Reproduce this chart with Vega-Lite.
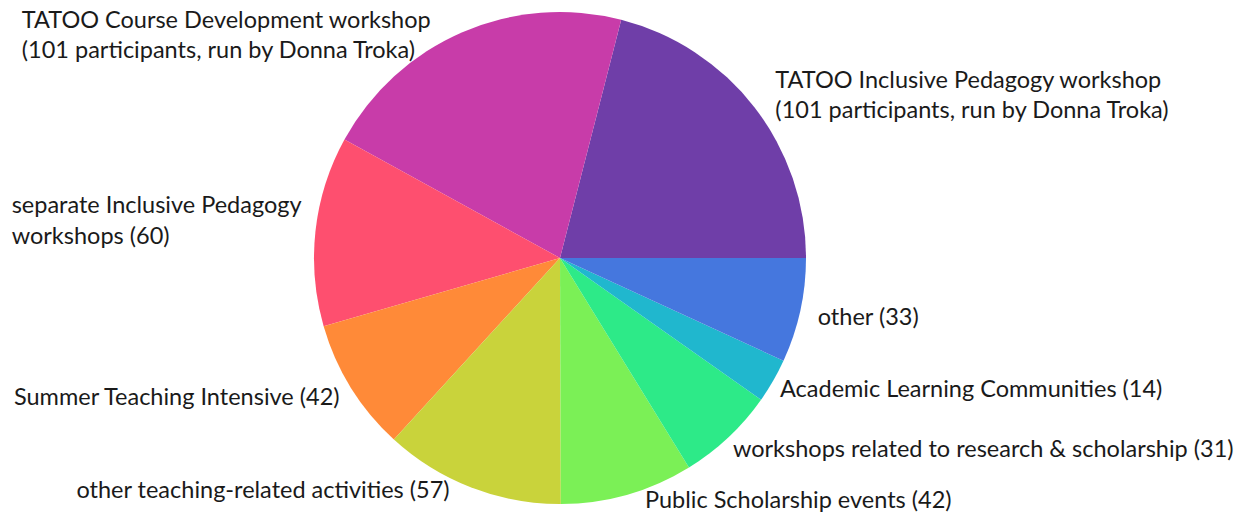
{
  "$schema": "https://vega.github.io/schema/vega-lite/v6.json",
  "width": 1120,
  "height": 516,
  "autosize": "none",
  "padding": {"left": 0, "top": 0, "right": 119, "bottom": 7},
  "background": "white",
  "config": {"view": {"stroke": null}, "text": {"font": "Lato", "fontSize": 23.5, "color": "#1a1a1a"}},
  "data": {
    "values": [
      {"rank": 1, "activity": "TATOO Inclusive Pedagogy", "participants": 101, "label": "TATOO Inclusive Pedagogy workshop\n(101 participants, run by Donna Troka)"},
      {"rank": 2, "activity": "TATOO Course Development", "participants": 101, "label": "TATOO Course Development workshop\n(101 participants, run by Donna Troka)"},
      {"rank": 3, "activity": "separate Inclusive Pedagogy", "participants": 60, "label": "separate Inclusive Pedagogy\nworkshops (60)"},
      {"rank": 4, "activity": "Summer Teaching Intensive", "participants": 42, "label": "Summer Teaching Intensive (42)"},
      {"rank": 5, "activity": "other teaching-related", "participants": 57, "label": "other teaching-related activities (57)"},
      {"rank": 6, "activity": "Public Scholarship", "participants": 42, "label": "Public Scholarship events (42)"},
      {"rank": 7, "activity": "research & scholarship", "participants": 31, "label": "workshops related to research & scholarship (31)"},
      {"rank": 8, "activity": "Academic Learning Communities", "participants": 14, "label": "Academic Learning Communities (14)"},
      {"rank": 9, "activity": "other", "participants": 33, "label": "other (33)"}
    ]
  },
  "encoding": {
    "theta": {
      "field": "participants",
      "type": "quantitative",
      "stack": true,
      "scale": {"range": [1.5707963, -4.712389]}
    },
    "order": {"field": "rank", "type": "quantitative", "sort": "ascending"},
    "detail": {"field": "activity", "type": "nominal"}
  },
  "layer": [
    {
      "mark": {"type": "arc", "outerRadius": 246},
      "encoding": {
        "color": {
          "field": "activity",
          "type": "nominal",
          "legend": null,
          "scale": {
            "domain": ["TATOO Inclusive Pedagogy", "TATOO Course Development", "separate Inclusive Pedagogy", "Summer Teaching Intensive", "other teaching-related", "Public Scholarship", "research & scholarship", "Academic Learning Communities", "other"],
            "range": ["#6f3ea8", "#c83ca9", "#fe4f6f", "#ff8a38", "#c9d33b", "#7bf056", "#2dea88", "#20b7ce", "#4577de"]
          }
        }
      }
    },
    {
      "mark": {"type": "text", "radius": 270, "align": "left", "baseline": "alphabetic", "dx": 2, "dy": -5, "lineHeight": 30, "lineBreak": "\n"},
      "encoding": {"text": {"condition": {"test": "datum.rank === 1", "field": "label", "type": "nominal"}, "value": ""}}
    },
    {
      "mark": {"type": "text", "radius": 270, "align": "left", "baseline": "alphabetic", "dx": -431, "dy": 18, "lineHeight": 30, "lineBreak": "\n"},
      "encoding": {"text": {"condition": {"test": "datum.rank === 2", "field": "label", "type": "nominal"}, "value": ""}}
    },
    {
      "mark": {"type": "text", "radius": 270, "align": "left", "baseline": "alphabetic", "dx": -280, "dy": -15, "lineHeight": 31, "lineBreak": "\n"},
      "encoding": {"text": {"condition": {"test": "datum.rank === 3", "field": "label", "type": "nominal"}, "value": ""}}
    },
    {
      "mark": {"type": "text", "radius": 270, "align": "right", "baseline": "alphabetic", "dx": 9, "dy": 5},
      "encoding": {"text": {"condition": {"test": "datum.rank === 4", "field": "label", "type": "nominal"}, "value": ""}}
    },
    {
      "mark": {"type": "text", "radius": 270, "align": "right", "baseline": "alphabetic", "dx": -13, "dy": -12},
      "encoding": {"text": {"condition": {"test": "datum.rank === 5", "field": "label", "type": "nominal"}, "value": ""}}
    },
    {
      "mark": {"type": "text", "radius": 270, "align": "left", "baseline": "alphabetic", "dx": 11, "dy": -10},
      "encoding": {"text": {"condition": {"test": "datum.rank === 6", "field": "label", "type": "nominal"}, "value": ""}}
    },
    {
      "mark": {"type": "text", "radius": 270, "align": "left", "baseline": "alphabetic", "dx": -12, "dy": 2},
      "encoding": {"text": {"condition": {"test": "datum.rank === 7", "field": "label", "type": "nominal"}, "value": ""}}
    },
    {
      "mark": {"type": "text", "radius": 270, "align": "left", "baseline": "alphabetic", "dx": -14, "dy": 4},
      "encoding": {"text": {"condition": {"test": "datum.rank === 8", "field": "label", "type": "nominal"}, "value": ""}}
    },
    {
      "mark": {"type": "text", "radius": 270, "align": "left", "baseline": "alphabetic", "dx": -6, "dy": 9},
      "encoding": {"text": {"condition": {"test": "datum.rank === 9", "field": "label", "type": "nominal"}, "value": ""}}
    }
  ]
}
